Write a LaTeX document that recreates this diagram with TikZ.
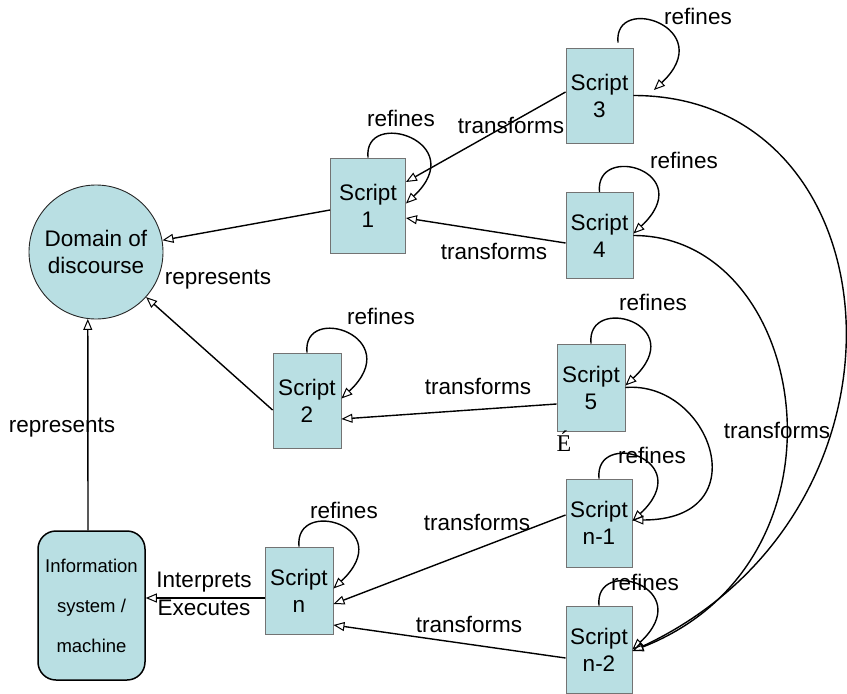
\documentclass[tikz,border=0pt]{standalone}
\usepackage{fontspec}
\setmainfont{Liberation Sans}
\newfontfamily\serifx{Liberation Serif}
\usetikzlibrary{arrows.meta}
\definecolor{boxfill}{RGB}{185,223,227}
\begin{document}
\begin{tikzpicture}[x=1pt,y=-1pt,
  font=\fontsize{22.5}{27}\selectfont,
  scriptbox/.style={draw=black!55, line width=0.9pt, fill=boxfill, align=center, inner sep=0pt},
  edge/.style={line width=1.4pt, -{Triangle[open,length=11pt,width=9pt,line width=1pt]}},
  lbl/.style={inner sep=0pt}
]
\useasboundingbox (0,0) rectangle (847,694);
% nodes
\node[scriptbox, minimum width=67pt, minimum height=95pt] (s3) at (599.5,95.5) {Script\\3};
\node[scriptbox, minimum width=67pt, minimum height=86pt] (s4) at (599.5,235.5) {Script\\4};
\node[scriptbox, minimum width=75pt, minimum height=95pt] (s1) at (368,205.5) {Script\\1};
\node[scriptbox, minimum width=68pt, minimum height=95pt] (s2) at (307,400.5) {Script\\2};
\node[scriptbox, minimum width=68pt, minimum height=87pt] (s5) at (591,387.5) {Script\\5};
\node[scriptbox, minimum width=66pt, minimum height=88pt] (nm1) at (599,523) {Script\\n-1};
\node[scriptbox, minimum width=66pt, minimum height=87pt] (nm2) at (599,649.5) {Script\\n-2};
\node[scriptbox, minimum width=68pt, minimum height=87pt] (sn) at (299,590.5) {Script\\n};
\node[draw=black, line width=1.5pt, fill=boxfill, rounded corners=18pt, align=center,
      minimum width=107pt, minimum height=149pt, inner sep=0pt,
      font=\fontsize{18.5}{40}\selectfont] (info) at (91.5,605.5) {Information\\system /\\machine};
\node[circle, draw=black!85, line width=0.9pt, fill=boxfill, minimum size=134pt, inner sep=0pt, align=center] (dom) at (96,252) {Domain of\\discourse};

% represents / interprets
\draw[edge] ([yshift=-4.5pt]s1.west) -- (dom.10);
\draw[edge] ([yshift=-9.5pt]s2.west) -- (dom.-42);
\draw[edge] ([xshift=-3.5pt]info.north) -- (dom.-97);
\draw[edge] ([yshift=-7.5pt]sn.west) -- ([yshift=7.5pt]info.east);

% transforms (straight)
\draw[edge] ([yshift=3.5pt]s3.west) -- ([yshift=23.5pt]s1.east);
\draw[edge] ([yshift=-7.5pt]s4.west) -- ([yshift=-12.5pt]s1.east);
\draw[edge] ([yshift=-16.5pt]s5.west) -- ([yshift=-18.5pt]s2.east);
\draw[edge] ([yshift=8pt]nm1.west) -- ([yshift=-13.5pt]sn.east);
\draw[edge] ([yshift=-8.5pt]nm2.west) -- ([yshift=-34.5pt]sn.east);

% transforms (curved)
\draw[edge] (s3.east) .. controls +(265,0) and +(300,-140) .. ([yshift=-1.5pt]nm2.east);
\draw[edge] (s4.east) .. controls +(176,0) and +(230,-90) .. ([yshift=-1.5pt]nm2.east);
\draw[edge] (s5.east) .. controls +(85,-7) and +(128,0) .. ([yshift=3pt]nm1.east);

% refines loops
\draw[edge] ([xshift=18.5pt,yshift=5pt]s3.north) .. controls +(-5,-50) and +(66,-62) .. ([xshift=20.5pt,yshift=5.5pt]s3.east);
\draw[edge] (s4.north) .. controls +(-5,-50) and +(66,-62) .. ([yshift=2pt]s4.east);
\draw[edge] (s1.north) .. controls +(-5,-50) and +(66,-62) .. ([yshift=2pt]s1.east);
\draw[edge] (s2.north) .. controls +(-5,-50) and +(66,-62) .. ([yshift=2pt]s2.east);
\draw[edge] (s5.north) .. controls +(-5,-50) and +(66,-62) .. ([yshift=2pt]s5.east);
\draw[edge] (nm1.north) .. controls +(-5,-50) and +(66,-62) .. ([yshift=2pt]nm1.east);
\draw[edge] (nm2.north) .. controls +(-5,-50) and +(66,-62) .. (nm2.east);
\draw[edge] (sn.north) .. controls +(-5,-50) and +(66,-62) .. ([yshift=2pt]sn.east);

% labels
\node[lbl] (r3) at (698,16) {refines};
\node[lbl] (r1) at (401,118) {refines};
\node[lbl] (r4) at (684,160) {refines};
\node[lbl] (r2) at (381,316) {refines};
\node[lbl] (r5) at (653,302) {refines};
\node[lbl] (rm1) at (652,455) {refines};
\node[lbl] (rm2) at (645,582) {refines};
\node[lbl] (rn) at (344,510) {refines};

\node[lbl] (t31) at (511,125) {transforms};
\node[lbl] (t41) at (494,251) {transforms};
\node[lbl] (t52) at (478,386) {transforms};
\node[lbl] (tm1) at (477,522) {transforms};
\node[lbl] (tm2) at (469,624) {transforms};
\node[lbl] (tbig) at (777,430) {transforms};

\node[lbl] (rep1) at (218,280) {represents};
\node[lbl] (rep2) at (62,428) {represents};
\node[lbl] (interp) at (204,582) {Interprets};
\node[lbl] (exec) at (204,608) {Executes};

\node[lbl, font=\serifx\fontsize{24}{28}\selectfont] (eacute) at (564,441) {É};
\end{tikzpicture}
\end{document}
